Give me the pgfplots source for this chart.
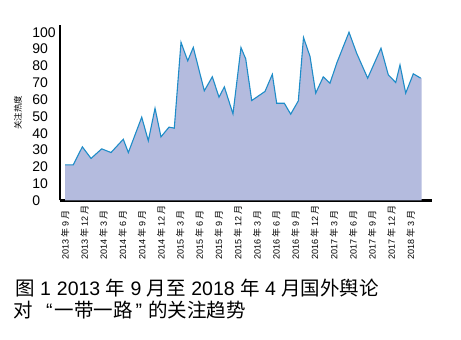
\documentclass[border=0pt]{standalone}
\usepackage{pgfplots}
\pgfplotsset{compat=1.18}
\usepackage{fontspec}
\setmainfont{Liberation Sans}
\newfontfamily\cjk{Noto Sans CJK SC}
\definecolor{areafill}{RGB}{180,187,222}
\definecolor{linecol}{RGB}{30,140,200}
\newcommand{\ym}[2]{\mbox{#1\hspace{2pt}{\cjk 年}\hspace{2pt}#2\hspace{2pt}{\cjk 月}}}
\begin{document}
\begin{tikzpicture}[x=1pt,y=1pt]
\useasboundingbox (0,0) rectangle (461,340);
\begin{axis}[
  at={(60pt,139.5pt)}, anchor=south west,
  scale only axis, width=372pt, height=175pt,
  xmin=-0.8, xmax=57.33, ymin=0, ymax=104,
  axis lines=left,
  axis line style={-, line width=2.2pt, black},
  ytick={0,10,...,100},
  ytick style={draw=none},
  xtick={3,6,...,54},
  xticklabels={\ym{2013}{12},\ym{2014}{3},\ym{2014}{6},\ym{2014}{9},\ym{2014}{12},
    \ym{2015}{3},\ym{2015}{6},\ym{2015}{9},\ym{2015}{12},
    \ym{2016}{3},\ym{2016}{6},\ym{2016}{9},\ym{2016}{12},
    \ym{2017}{3},\ym{2017}{6},\ym{2017}{9},\ym{2017}{12},\ym{2018}{3}},
  extra x ticks={0},
  extra x tick labels={\ym{2013}{9}},
  extra x tick style={major tick length=0pt},
  tick align=inside,
  major tick length=7pt,
  xtick style={line width=1.3pt, black},
  xticklabel style={font=\fontsize{9}{9}\selectfont, rotate=90, anchor=east, text width=55pt, align=left, inner sep=0pt},
  xticklabel shift=3.5pt,
  yticklabel style={font=\fontsize{14}{14}\selectfont, anchor=east, text width=25pt, align=left, inner sep=0pt},
  yticklabel shift=2.5pt,
  /pgf/number format/assume math mode=true,
  ylabel={\cjk 关注热度},
  every axis y label/.style={at={(axis description cs:-0.113,0.5)}, rotate=90, anchor=center, font=\fontsize{8.5}{8.5}\selectfont},
]
\addplot[fill=areafill, draw=none] coordinates {
(0,21.2) (1.28,21.2) (2.69,31.9) (4.05,25) (5.72,30.7) (7.17,28.5) (9.09,36.4) (9.88,28.5)
(11.97,49.5) (13.0,35.5) (14.05,54.8) (14.98,37.8) (16.23,43.6) (17.06,43) (18.11,94) (19.16,83)
(20.03,91) (21.75,65.2) (23.0,73.5) (24.05,61.4) (24.88,67.5) (26.23,51.5) (27.48,90.9) (28.22,84.2)
(29.16,59.4) (31.23,64.8) (32.38,75) (33.06,57.8) (34.25,57.8) (35.25,51.3) (36.44,59.2) (37.25,96.9)
(38.27,85.6) (39.16,63.8) (40.34,73.5) (41.39,69.7) (42.44,81.6) (44.36,100) (45.56,87.5) (47.28,72.7)
(49.36,90.5) (50.5,74.7) (51.66,70.1) (52.33,80.6) (53.22,63.8) (54.41,75.3) (55.7,72.7)
} \closedcycle;
\addplot[draw=linecol, line width=1.1pt, mark=none] coordinates {
(0,21.2) (1.28,21.2) (2.69,31.9) (4.05,25) (5.72,30.7) (7.17,28.5) (9.09,36.4) (9.88,28.5)
(11.97,49.5) (13.0,35.5) (14.05,54.8) (14.98,37.8) (16.23,43.6) (17.06,43) (18.11,94) (19.16,83)
(20.03,91) (21.75,65.2) (23.0,73.5) (24.05,61.4) (24.88,67.5) (26.23,51.5) (27.48,90.9) (28.22,84.2)
(29.16,59.4) (31.23,64.8) (32.38,75) (33.06,57.8) (34.25,57.8) (35.25,51.3) (36.44,59.2) (37.25,96.9)
(38.27,85.6) (39.16,63.8) (40.34,73.5) (41.39,69.7) (42.44,81.6) (44.36,100) (45.56,87.5) (47.28,72.7)
(49.36,90.5) (50.5,74.7) (51.66,70.1) (52.33,80.6) (53.22,63.8) (54.41,75.3) (55.56,72.7)
};
\end{axis}
\node[anchor=base west, inner sep=0pt, font=\fontsize{19.5}{19.5}\selectfont] at (15,44)
  {{\cjk 图} 1\hspace{6pt}2013 {\cjk 年} 9 {\cjk 月至} 2018 {\cjk 年} 4 {\cjk 月国外舆论}};
\node[anchor=base west, inner sep=0pt, font=\fontsize{19.5}{19.5}\selectfont] at (13.5,22)
  {{\cjk 对}\hspace{13pt}“\hspace{2pt}{\cjk 一带一路}\hspace{3pt}”\hspace{6pt}{\cjk 的关注趋势}};
\end{tikzpicture}
\end{document}
